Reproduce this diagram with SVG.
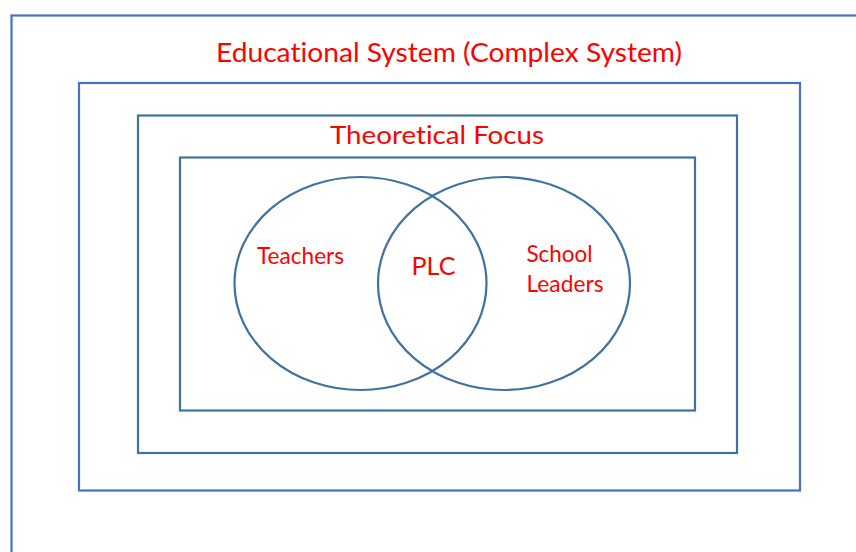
<svg xmlns="http://www.w3.org/2000/svg" width="856" height="552" viewBox="0 0 856 552">
<style>
.lt{fill:none;stroke:#4472C4;stroke-width:2.2}
.dk{fill:none;stroke:#41719C;stroke-width:2.2}
.t{font-family:Lato,"Liberation Sans",sans-serif;fill:#FF0000;font-variant-ligatures:none;font-feature-settings:"liga" 0,"clig" 0,"calt" 0,"dlig" 0}
</style>
<rect width="856" height="552" fill="#ffffff"/>
<g id="educational-system">
<rect class="lt" x="11.5" y="15.5" width="860" height="560"/>
<text class="t" x="216" y="61.5" font-size="26.5" textLength="466" lengthAdjust="spacingAndGlyphs">Educational System (Complex System)</text>
</g>
<g id="frame">
<rect class="lt" x="79" y="83" width="721" height="407.5"/>
</g>
<g id="theoretical-focus">
<rect class="dk" x="138" y="115.5" width="599" height="337.5"/>
<text class="t" x="330" y="144" font-size="25" textLength="214" lengthAdjust="spacingAndGlyphs">Theoretical Focus</text>
</g>
<g id="inner-frame">
<rect class="dk" x="180" y="157.5" width="515" height="253"/>
</g>
<g id="teachers">
<ellipse class="dk" cx="360.5" cy="283.5" rx="126" ry="106.5"/>
<text class="t" x="257" y="264" font-size="22.5" textLength="87" lengthAdjust="spacingAndGlyphs">Teachers</text>
</g>
<g id="school-leaders">
<ellipse class="dk" cx="504" cy="283.5" rx="126" ry="106.5"/>
<text class="t" x="526.5" y="261.5" font-size="22.5" textLength="66" lengthAdjust="spacingAndGlyphs">School</text>
<text class="t" x="526.5" y="292" font-size="22.5" textLength="77" lengthAdjust="spacingAndGlyphs">Leaders</text>
</g>
<g id="plc">
<text class="t" x="411.5" y="275" font-size="25" textLength="44" lengthAdjust="spacingAndGlyphs">PLC</text>
</g>
<g id="connectors"></g>
</svg>
